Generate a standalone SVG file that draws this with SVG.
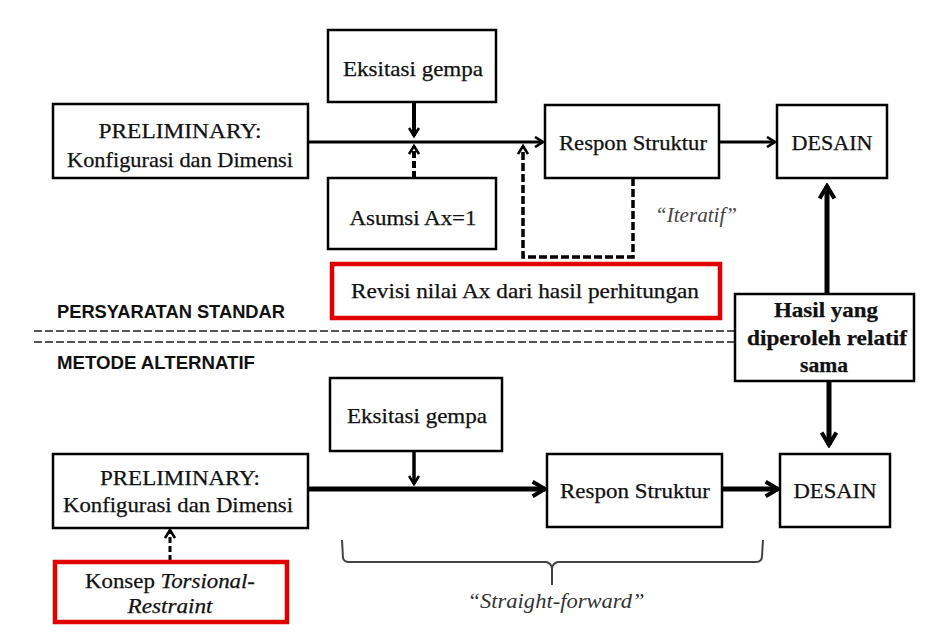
<svg xmlns="http://www.w3.org/2000/svg" width="937" height="636" viewBox="0 0 937 636">
<style>
.box{fill:#fff;stroke:#000;stroke-width:2.5}
.red{fill:#fff;stroke:#e00000;stroke-width:4.5}
.t{font-family:"Liberation Serif","Times New Roman",serif;font-size:21px;fill:#111;text-anchor:middle;stroke:#111;stroke-width:0.25}
.b{font-weight:bold}
.i{font-style:italic}
.s{font-family:"Liberation Sans",Arial,sans-serif;font-weight:bold;font-size:18px;fill:#111}
.ln{fill:none;stroke:#000}
</style>
<defs>
<marker id="ah" viewBox="0 0 12 12" refX="10" refY="6" markerWidth="12" markerHeight="12" markerUnits="userSpaceOnUse" orient="auto">
<path d="M2,1 L10,6 L2,11" fill="none" stroke="#000" stroke-width="2.6"/>
</marker>
<marker id="ahb" viewBox="0 0 16 16" refX="13" refY="8" markerWidth="18" markerHeight="18" markerUnits="userSpaceOnUse" orient="auto">
<path d="M2,1.5 L13,8 L2,14.5" fill="none" stroke="#000" stroke-width="3.5"/>
</marker>
</defs>
<rect width="937" height="636" fill="#fff"/>

<g id="connectors">
<line class="ln" x1="308" y1="142" x2="543" y2="142" stroke-width="3" marker-end="url(#ah)"/>
<line class="ln" x1="414" y1="102" x2="414" y2="136" stroke-width="4" marker-end="url(#ah)"/>
<line class="ln" x1="414" y1="178" x2="414" y2="146" stroke-width="4" stroke-dasharray="7 3" marker-end="url(#ah)"/>
<line class="ln" x1="719" y1="142" x2="775" y2="142" stroke-width="3" marker-end="url(#ah)"/>
<polyline class="ln" points="633,178 633,257 523,257 523,146" stroke-width="3.5" stroke-dasharray="8 3" marker-end="url(#ah)"/>
<line class="ln" x1="827" y1="294" x2="827" y2="186" stroke-width="5" marker-end="url(#ahb)"/>
<line class="ln" x1="829" y1="381" x2="829" y2="445" stroke-width="5" marker-end="url(#ahb)"/>
<line class="ln" x1="309" y1="489" x2="545" y2="489" stroke-width="5" marker-end="url(#ahb)"/>
<line class="ln" x1="414" y1="451" x2="414" y2="484" stroke-width="3.5" marker-end="url(#ah)"/>
<line class="ln" x1="722" y1="489" x2="778" y2="489" stroke-width="5" marker-end="url(#ahb)"/>
<line class="ln" x1="170" y1="561" x2="170" y2="530" stroke-width="3" stroke-dasharray="6 3" marker-end="url(#ah)"/>
<line x1="34" y1="331" x2="737" y2="331" stroke="#555" stroke-width="2" stroke-dasharray="8 3"/>
<line x1="34" y1="342" x2="737" y2="342" stroke="#555" stroke-width="2" stroke-dasharray="8 3"/>
<path d="M342,540 L343,558 Q344,562 349,562 L546,562 Q551,563 552,568 L552,585 M552,568 Q553,563 558,562 L756,562 Q762,562 762,556 L763,540" fill="none" stroke="#444" stroke-width="2"/>
</g>

<g id="eksitasi-top"><rect class="box" x="328" y="30" width="168" height="72"/><text class="t" x="413" y="76" textLength="140" lengthAdjust="spacingAndGlyphs">Eksitasi gempa</text></g>
<g id="prelim-top"><rect class="box" x="53" y="104" width="255" height="74"/><text class="t" x="180" y="138" textLength="163" lengthAdjust="spacingAndGlyphs">PRELIMINARY:</text><text class="t" x="180" y="167" textLength="226" lengthAdjust="spacingAndGlyphs">Konfigurasi dan Dimensi</text></g>
<g id="asumsi"><rect class="box" x="328" y="178" width="168" height="71"/><text class="t" x="413" y="225" textLength="127" lengthAdjust="spacingAndGlyphs">Asumsi Ax=1</text></g>
<g id="respon-top"><rect class="box" x="545" y="105" width="174" height="73"/><text class="t" x="633" y="150" textLength="148" lengthAdjust="spacingAndGlyphs">Respon Struktur</text></g>
<g id="desain-top"><rect class="box" x="777" y="105" width="110" height="73"/><text class="t" x="832" y="150" textLength="81" lengthAdjust="spacingAndGlyphs">DESAIN</text></g>
<g id="iteratif"><text class="t i" x="696" y="222" style="fill:#444;stroke:none" textLength="82" lengthAdjust="spacingAndGlyphs">“Iteratif”</text></g>
<g id="revisi"><rect class="red" x="332" y="264" width="388" height="54"/><text class="t" x="525" y="298" textLength="348" lengthAdjust="spacingAndGlyphs">Revisi nilai Ax dari hasil perhitungan</text></g>
<g id="label-standar"><text class="s" x="57" y="318" textLength="228" lengthAdjust="spacingAndGlyphs">PERSYARATAN STANDAR</text></g>
<g id="label-alternatif"><text class="s" x="57" y="369" textLength="198" lengthAdjust="spacingAndGlyphs">METODE ALTERNATIF</text></g>
<g id="hasil"><rect class="box" x="735" y="294" width="179" height="87"/><text class="t b" x="826" y="317" textLength="104" lengthAdjust="spacingAndGlyphs">Hasil yang</text><text class="t b" x="827" y="345" textLength="160" lengthAdjust="spacingAndGlyphs">diperoleh relatif</text><text class="t b" x="824" y="372" textLength="48" lengthAdjust="spacingAndGlyphs">sama</text></g>
<g id="eksitasi-bottom"><rect class="box" x="330" y="378" width="172" height="73"/><text class="t" x="417" y="423" textLength="140" lengthAdjust="spacingAndGlyphs">Eksitasi gempa</text></g>
<g id="prelim-bottom"><rect class="box" x="53" y="454" width="255" height="74"/><text class="t" x="180" y="485" textLength="160" lengthAdjust="spacingAndGlyphs">PRELIMINARY:</text><text class="t" x="178" y="512" textLength="230" lengthAdjust="spacingAndGlyphs">Konfigurasi dan Dimensi</text></g>
<g id="respon-bottom"><rect class="box" x="547" y="454" width="175" height="73"/><text class="t" x="635" y="498" textLength="150" lengthAdjust="spacingAndGlyphs">Respon Struktur</text></g>
<g id="desain-bottom"><rect class="box" x="780" y="454" width="110" height="73"/><text class="t" x="835" y="498" textLength="83" lengthAdjust="spacingAndGlyphs">DESAIN</text></g>
<g id="konsep"><rect class="red" x="55" y="562" width="232" height="60"/><text class="t" x="170" y="588" textLength="170" lengthAdjust="spacingAndGlyphs">Konsep <tspan class="i">Torsional-</tspan></text><text class="t i" x="170" y="613" textLength="85" lengthAdjust="spacingAndGlyphs">Restraint</text></g>
<g id="straight"><text class="t i" x="556" y="608" style="fill:#333;stroke:none" textLength="177" lengthAdjust="spacingAndGlyphs">“Straight-forward”</text></g>
</svg>
